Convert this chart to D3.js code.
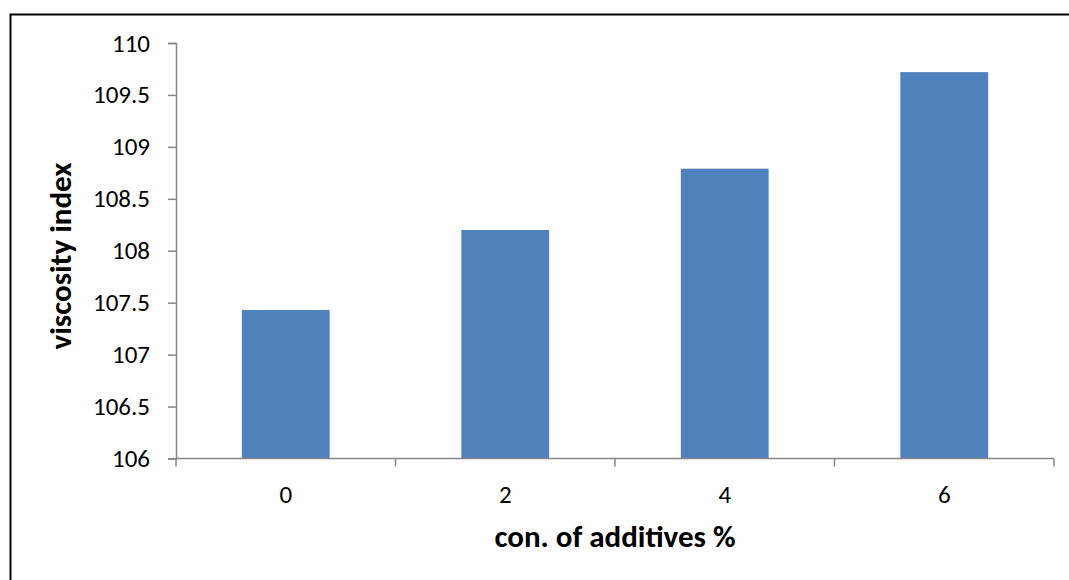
<!DOCTYPE html>
<html>
<head>
<meta charset="utf-8">
<script src="https://cdn.jsdelivr.net/npm/d3@7"></script>
<style>
  html, body { margin: 0; padding: 0; background: #fff; }
  svg { display: block; }
  svg text { font-family: Carlito, Calibri, "Open Sans", sans-serif; fill: #000; }
</style>
</head>
<body>
<svg id="chart" width="1069" height="580"></svg>
<script>
// Viscosity index vs. additive concentration
const categories = ["0", "2", "4", "6"];
const values = [107.43, 108.2, 108.79, 109.72];
const yTicks = [106, 106.5, 107, 107.5, 108, 108.5, 109, 109.5, 110];

const svg = d3.select("#chart");
const W = 1069, H = 580;
const plot = { left: 176, right: 1054, top: 43, bottom: 458.5 };

// chart frame (runs past the right and bottom edges)
svg.append("rect")
  .attr("x", 10.5).attr("y", 14.5)
  .attr("width", W + 20).attr("height", H + 20)
  .attr("fill", "none").attr("stroke", "#000").attr("stroke-width", 2);

const x = d3.scaleBand()
  .domain(categories)
  .range([plot.left, plot.right])
  .paddingInner(0.6).paddingOuter(0.3);

const y = d3.scaleLinear().domain([106, 110]).range([plot.bottom, plot.top]);

// bars
svg.append("g").selectAll("rect")
  .data(values)
  .join("rect")
  .attr("x", (d, i) => x(categories[i]))
  .attr("y", d => y(d))
  .attr("width", x.bandwidth())
  .attr("height", d => y(106) - y(d))
  .attr("fill", "#4F81BD");

const axisColor = "#868686";

// y axis
const yAxis = svg.append("g")
  .attr("transform", `translate(${plot.left},0)`)
  .call(d3.axisLeft(y).tickValues(yTicks).tickFormat(d3.format("")).tickSize(8).tickPadding(18));
yAxis.attr("font-family", null).attr("font-size", null);
yAxis.select(".domain").attr("stroke", axisColor).attr("stroke-width", 1.5);
yAxis.selectAll(".tick line").attr("stroke", axisColor).attr("stroke-width", 1.5);
yAxis.selectAll(".tick text").style("font-size", "25px");

// x axis: ticks on category boundaries, labels centred under bars
const xAxisG = svg.append("g").attr("transform", `translate(0,${plot.bottom})`);
xAxisG.append("line")
  .attr("x1", plot.left).attr("x2", plot.right)
  .attr("stroke", axisColor).attr("stroke-width", 1.5);
const boundaries = d3.range(categories.length + 1).map(i => plot.left + i * x.step());
xAxisG.selectAll(".xt").data(boundaries).join("line")
  .attr("x1", d => d).attr("x2", d => d)
  .attr("y1", 0).attr("y2", 8)
  .attr("stroke", axisColor).attr("stroke-width", 1.5);
xAxisG.selectAll("text").data(categories).join("text")
  .attr("x", d => x(d) + x.bandwidth() / 2)
  .attr("y", 44)
  .attr("text-anchor", "middle")
  .style("font-size", "25px")
  .text(d => d);

// axis titles
svg.append("text")
  .attr("x", 615).attr("y", 547)
  .attr("text-anchor", "middle")
  .style("font-size", "31px").style("font-weight", "bold")
  .text("con. of additives %");

svg.append("text")
  .attr("transform", "translate(71,256) rotate(-90)")
  .attr("text-anchor", "middle")
  .style("font-size", "31px").style("font-weight", "bold")
  .text("viscosity index");
</script>
</body>
</html>
